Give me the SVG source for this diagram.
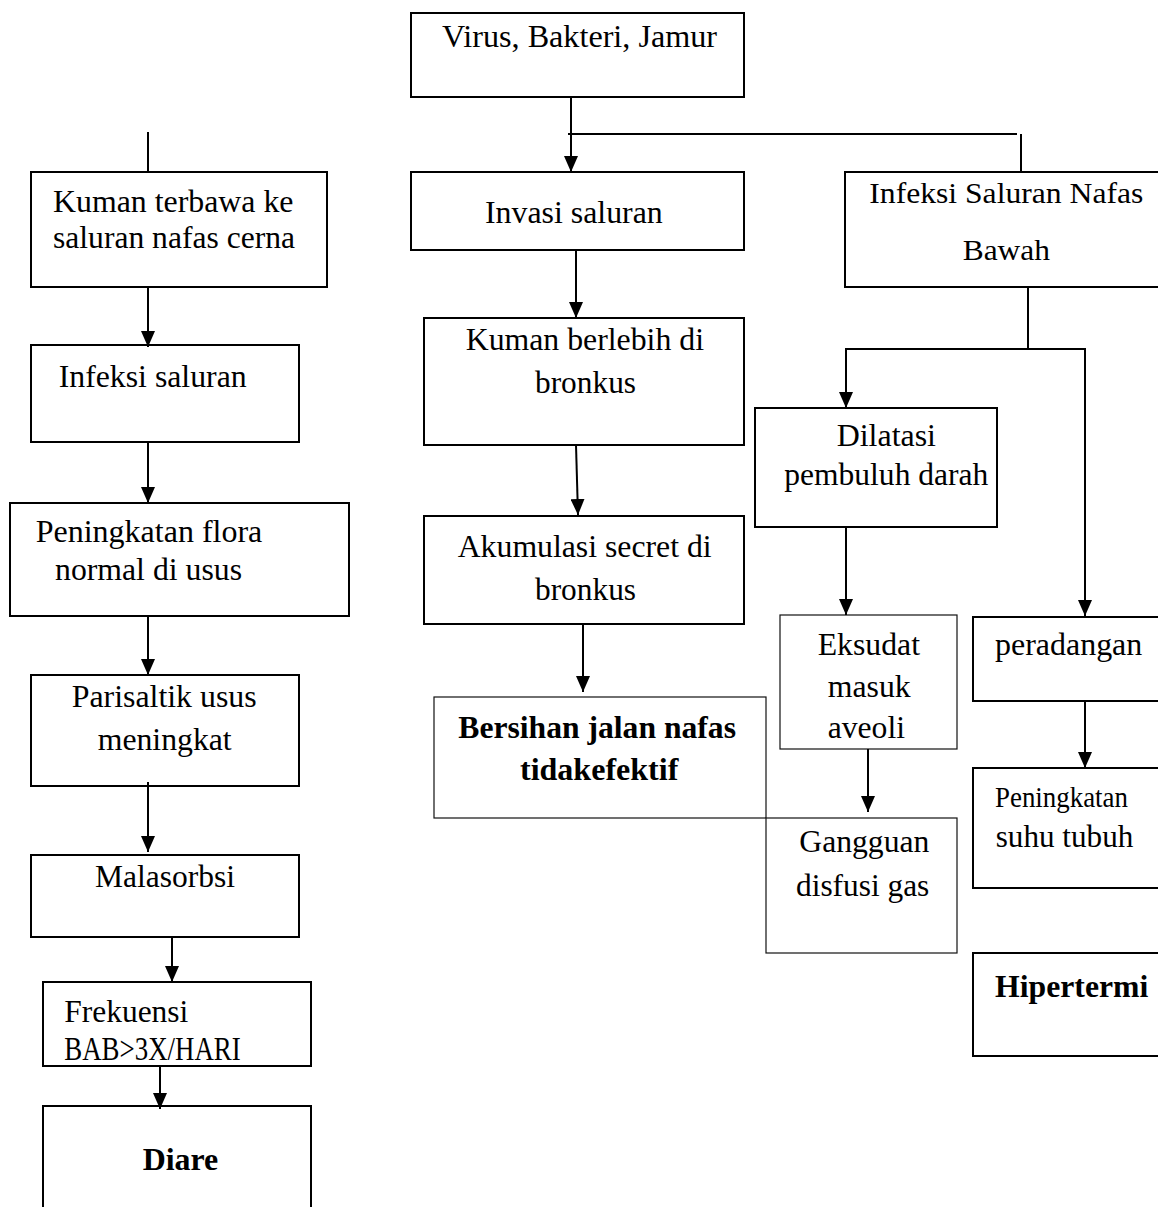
<svg xmlns="http://www.w3.org/2000/svg" width="1158" height="1207" viewBox="0 0 1158 1207">
<style>
  .box { fill: #ffffff; stroke: #000000; stroke-width: 2; }
  .thin { fill: #ffffff; stroke: #111111; stroke-width: 1.2; }
  .t { font-family: "Liberation Serif", "Times New Roman", serif; font-size: 31px; fill: #000000; }
  .b { font-weight: bold; }
  .ln { fill: none; stroke: #000000; stroke-width: 2; }
  .ar { fill: none; stroke: #000000; stroke-width: 2; marker-end: url(#ah); }
</style>
<defs>
  <marker id="ah" markerUnits="userSpaceOnUse" viewBox="0 0 16 14" markerWidth="16" markerHeight="14" refX="16" refY="7" orient="auto">
    <path d="M0,0 L16,7 L0,14 z" fill="#000000"/>
  </marker>
</defs>
<rect width="1158" height="1207" fill="#ffffff"/>

<g id="n-virus">
  <rect class="box" x="411" y="13" width="333" height="84"/>
  <text class="t" x="442" y="47" textLength="275" lengthAdjust="spacingAndGlyphs">Virus, Bakteri, Jamur</text>
</g>

<g id="n-kuman-terbawa">
  <rect class="box" x="31" y="172" width="296" height="115"/>
  <text class="t" x="53" y="211.7" textLength="240.5" lengthAdjust="spacingAndGlyphs">Kuman terbawa ke</text>
  <text class="t" x="53" y="248.3" textLength="242" lengthAdjust="spacingAndGlyphs">saluran nafas cerna</text>
</g>

<g id="n-infeksi-saluran">
  <rect class="box" x="31" y="345" width="268" height="97"/>
  <text class="t" x="58.7" y="386.7" textLength="188" lengthAdjust="spacingAndGlyphs">Infeksi saluran</text>
</g>

<g id="n-peningkatan-flora">
  <rect class="box" x="10" y="503" width="339" height="113"/>
  <text class="t" x="35.7" y="541.7" textLength="226.6" lengthAdjust="spacingAndGlyphs">Peningkatan flora</text>
  <text class="t" x="55" y="580" textLength="187" lengthAdjust="spacingAndGlyphs">normal di usus</text>
</g>

<g id="n-parisaltik">
  <rect class="box" x="31" y="675" width="268" height="111"/>
  <text class="t" x="71.7" y="706.7" textLength="185" lengthAdjust="spacingAndGlyphs">Parisaltik usus</text>
  <text class="t" x="97.7" y="750" textLength="134" lengthAdjust="spacingAndGlyphs">meningkat</text>
</g>

<g id="n-malasorbsi">
  <rect class="box" x="31" y="855" width="268" height="82"/>
  <text class="t" x="95" y="886.7" textLength="140" lengthAdjust="spacingAndGlyphs">Malasorbsi</text>
</g>

<g id="n-frekuensi">
  <rect class="box" x="43" y="982" width="268" height="84"/>
  <text class="t" x="64.3" y="1021.7" textLength="124" lengthAdjust="spacingAndGlyphs">Frekuensi</text>
  <text class="t" x="64.3" y="1060" style="font-size:33px" textLength="176.4" lengthAdjust="spacingAndGlyphs">BAB&gt;3X/HARI</text>
</g>

<g id="n-diare">
  <rect class="box" x="43" y="1106" width="268" height="115"/>
  <text class="t b" x="142.7" y="1170" textLength="75.6" lengthAdjust="spacingAndGlyphs">Diare</text>
</g>

<g id="n-invasi">
  <rect class="box" x="411" y="172" width="333" height="78"/>
  <text class="t" x="485" y="223.3" style="font-size:32px" textLength="177.7" lengthAdjust="spacingAndGlyphs">Invasi saluran</text>
</g>

<g id="n-kuman-berlebih">
  <rect class="box" x="424" y="318" width="320" height="127"/>
  <text class="t" x="465.7" y="350" textLength="238.3" lengthAdjust="spacingAndGlyphs">Kuman berlebih di</text>
  <text class="t" x="535" y="393" textLength="101" lengthAdjust="spacingAndGlyphs">bronkus</text>
</g>

<g id="n-akumulasi">
  <rect class="box" x="424" y="516" width="320" height="108"/>
  <text class="t" x="457.7" y="556.9" textLength="254" lengthAdjust="spacingAndGlyphs">Akumulasi secret di</text>
  <text class="t" x="535" y="599.7" textLength="101" lengthAdjust="spacingAndGlyphs">bronkus</text>
</g>

<g id="n-bersihan">
  <rect class="thin" x="434" y="697" width="332" height="121"/>
  <text class="t b" x="458.3" y="737.5" textLength="277.7" lengthAdjust="spacingAndGlyphs">Bersihan jalan nafas</text>
  <text class="t b" x="520" y="779.6" textLength="158.3" lengthAdjust="spacingAndGlyphs">tidakefektif</text>
</g>

<g id="n-infeksi-bawah">
  <rect class="box" x="845" y="172" width="325" height="115"/>
  <text class="t" x="869.3" y="203.3" style="font-size:29px" textLength="274" lengthAdjust="spacingAndGlyphs">Infeksi Saluran Nafas</text>
  <text class="t" x="962.7" y="260" style="font-size:29px" textLength="87.3" lengthAdjust="spacingAndGlyphs">Bawah</text>
</g>

<g id="n-dilatasi">
  <rect class="box" x="755" y="408" width="242" height="119"/>
  <text class="t" x="836.7" y="445.7" textLength="99.3" lengthAdjust="spacingAndGlyphs">Dilatasi</text>
  <text class="t" x="784.3" y="485" textLength="204" lengthAdjust="spacingAndGlyphs">pembuluh darah</text>
</g>

<g id="n-eksudat">
  <rect class="thin" x="780" y="615" width="177" height="134"/>
  <text class="t" x="817.7" y="655" textLength="102.3" lengthAdjust="spacingAndGlyphs">Eksudat</text>
  <text class="t" x="827.7" y="696.7" textLength="83" lengthAdjust="spacingAndGlyphs">masuk</text>
  <text class="t" x="827.7" y="738.3" textLength="77.3" lengthAdjust="spacingAndGlyphs">aveoli</text>
</g>

<g id="n-gangguan">
  <rect class="thin" x="766" y="818" width="191" height="135"/>
  <text class="t" x="799.3" y="852.3" textLength="130" lengthAdjust="spacingAndGlyphs">Gangguan</text>
  <text class="t" x="796" y="896" textLength="133.3" lengthAdjust="spacingAndGlyphs">disfusi gas</text>
</g>

<g id="n-peradangan">
  <rect class="box" x="973" y="617" width="197" height="84"/>
  <text class="t" x="995" y="655" textLength="147.3" lengthAdjust="spacingAndGlyphs">peradangan</text>
</g>

<g id="n-peningkatan-suhu">
  <rect class="box" x="973" y="768" width="197" height="120"/>
  <text class="t" x="995" y="806.7" style="font-size:30px" textLength="133" lengthAdjust="spacingAndGlyphs">Peningkatan</text>
  <text class="t" x="995.7" y="846.7" textLength="137.6" lengthAdjust="spacingAndGlyphs">suhu tubuh</text>
</g>

<g id="n-hipertermi">
  <rect class="box" x="973" y="953" width="197" height="103"/>
  <text class="t b" x="995" y="996.7" textLength="153.3" lengthAdjust="spacingAndGlyphs">Hipertermi</text>
</g>

<g id="connectors">
  <line class="ln" x1="148" y1="132" x2="148" y2="172"/>
  <line class="ar" x1="148" y1="287" x2="148" y2="347"/>
  <line class="ar" x1="148" y1="442" x2="148" y2="503"/>
  <line class="ar" x1="148" y1="616" x2="148" y2="675"/>
  <line class="ar" x1="148" y1="782" x2="148" y2="852"/>
  <line class="ar" x1="172" y1="937" x2="172" y2="982"/>
  <line class="ar" x1="160" y1="1067" x2="160" y2="1109"/>

  <line class="ar" x1="571" y1="97" x2="571" y2="172"/>
  <line class="ln" x1="568" y1="134" x2="1017" y2="134"/>
  <line class="ln" x1="1021" y1="134" x2="1021" y2="172"/>
  <line class="ar" x1="576" y1="250" x2="576" y2="318"/>
  <line class="ar" x1="576" y1="445" x2="578" y2="515"/>
  <line class="ar" x1="583" y1="624" x2="583" y2="692"/>

  <line class="ln" x1="1028" y1="287" x2="1028" y2="349"/>
  <line class="ln" x1="845" y1="349" x2="1086" y2="349"/>
  <line class="ar" x1="846" y1="349" x2="846" y2="408"/>
  <line class="ar" x1="1085" y1="349" x2="1085" y2="616"/>
  <line class="ar" x1="846" y1="527" x2="846" y2="615"/>
  <line class="ar" x1="868" y1="749" x2="868" y2="812"/>
  <line class="ar" x1="1085" y1="701" x2="1085" y2="768"/>
</g>
</svg>
